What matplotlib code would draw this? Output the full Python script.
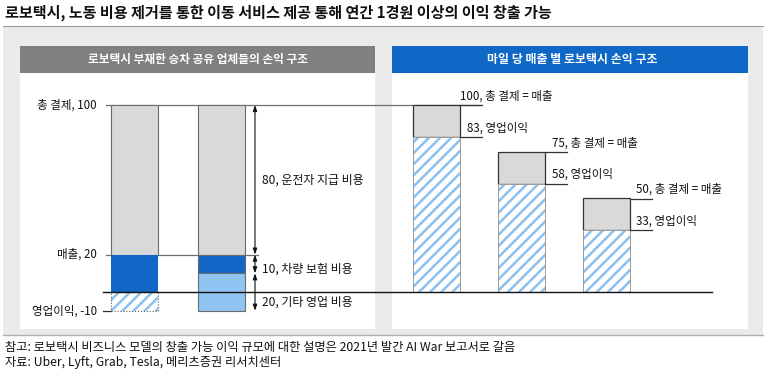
import matplotlib
matplotlib.use("Agg")
import matplotlib.pyplot as plt
from matplotlib.patches import Rectangle

plt.rcParams['font.family'] = ['Noto Sans CJK KR', 'DejaVu Sans']
plt.rcParams['hatch.linewidth'] = 1.8

# ---------------- data ----------------
title = "로보택시, 노동 비용 제거를 통한 이동 서비스 제공 통해 연간 1경원 이상의 이익 창출 가능"
left_header = "로보택시 부재한 승차 공유 업체들의 손익 구조"
right_header = "마일 당 매출 별 로보택시 손익 구조"
footer_note = "참고: 로보택시 비즈니스 모델의 창출 가능 이익 규모에 대한 설명은 2021년 발간 AI War 보고서로 갈음"
footer_src = "자료: Uber, Lyft, Grab, Tesla, 메리츠증권 리서치센터"

# left chart (ride-hailing platform without robotaxi)
total_payment = 100
revenue = 20
op_profit_left = -10
left_level_labels = ["총 결제, 100", "매출, 20", "영업이익, -10"]
left_levels = [total_payment, revenue, op_profit_left]
driver_cost = 80
insurance_cost = 10
other_cost = 20
cost_labels = ["80, 운전자 지급 비용", "10, 차량 보험 비용", "20, 기타 영업 비용"]

# right chart (robotaxi P&L by revenue per mile)
robo_revenue = [100, 75, 50]
robo_profit = [83, 58, 33]
robo_rev_labels = ["100, 총 결제 = 매출", "75, 총 결제 = 매출", "50, 총 결제 = 매출"]
robo_profit_labels = ["83, 영업이익", "58, 영업이익", "33, 영업이익"]

# ---------------- colors ----------------
BG = '#ebebeb'
GRAY_HDR = '#808080'
BLUE_HDR = '#0f67c6'
DARK_BLUE = '#1166c6'
LIGHT_BLUE = '#8fc3f2'
HATCH_BLUE = '#8cc0ee'
BAR_GRAY = '#d9d9d9'
EDGE = '#6a6a6a'

W, H = 768, 377
fig = plt.figure(figsize=(W / 100, H / 100), dpi=100)

# background axes in pixel coordinates
bg = fig.add_axes([0, 0, 1, 1])
bg.set_xlim(0, W)
bg.set_ylim(H, 0)
bg.axis('off')
bg.add_patch(Rectangle((3, 26), 760, 309, facecolor=BG, edgecolor='none'))
bg.plot([3, 763], [335, 335], color='#b0b0b0', lw=1)
bg.plot([3, 763], [25.5, 25.5], color='#9a9a9a', lw=0.8)
bg.add_patch(Rectangle((20, 46), 355, 283, facecolor='white', edgecolor='none'))
bg.add_patch(Rectangle((392, 46), 356, 283, facecolor='white', edgecolor='none'))
bg.add_patch(Rectangle((20, 46), 355, 27, facecolor=GRAY_HDR, edgecolor='none'))
bg.add_patch(Rectangle((392, 46), 356, 27, facecolor=BLUE_HDR, edgecolor='none'))
bg.text(5, 13, title, fontsize=10.9, fontweight='bold', va='center', ha='left', color='#111111')
bg.text(197.5, 59.5, left_header, fontsize=8.4, fontweight='bold', color='white', ha='center', va='center')
bg.text(572, 59.5, right_header, fontsize=8.6, fontweight='bold', color='white', ha='center', va='center')
bg.text(5, 348, footer_note, fontsize=8.8, va='center', ha='left', color='#111111')
bg.text(5, 362.5, footer_src, fontsize=8.8, va='center', ha='left', color='#111111')

# data axes: value v maps to pixel 292 - 1.87*v
ax = fig.add_axes([0, 0, 1, 1])
ax.set_xlim(0, W)
ax.set_ylim((292 - H) / 1.87, 292 / 1.87)
ax.patch.set_alpha(0)
ax.axis('off')

bw = 47
# ---- left chart ----
x1, x2 = 134.5, 221.0
# bar 1: total payment split into driver pay / revenue / operating loss
ax.bar(x1, total_payment - revenue, bw, bottom=revenue, color=BAR_GRAY, edgecolor=EDGE, lw=0.8, zorder=3)
ax.bar(x1, revenue, bw, bottom=0, color=DARK_BLUE, edgecolor='none', lw=0, zorder=3)
ax.bar(x1, op_profit_left, bw, bottom=0, color='white', edgecolor=HATCH_BLUE, hatch='///', lw=0, zorder=3)
ax.bar(x1, op_profit_left, bw, bottom=0, color='none', edgecolor='#555555', lw=0.8, ls=':', zorder=4)
# bar 2: cost structure
ax.bar(x2, driver_cost, bw, bottom=revenue, color=BAR_GRAY, edgecolor=EDGE, lw=0.8, zorder=3)
ax.bar(x2, insurance_cost, bw, bottom=revenue - insurance_cost, color=DARK_BLUE, edgecolor=EDGE, lw=0.8, zorder=3)
ax.bar(x2, other_cost, bw, bottom=op_profit_left, color=LIGHT_BLUE, edgecolor=EDGE, lw=0.8, zorder=3)

# level lines
ax.plot([106, 480], [total_payment] * 2, color='#707070', lw=0.9, zorder=2)
ax.plot([106, 258], [revenue] * 2, color='#707070', lw=0.9, zorder=2)
ax.plot([103, 712], [0, 0], color='#111111', lw=1.0, zorder=5)
ax.plot([103, x1 - bw / 2], [op_profit_left] * 2, color='#333333', lw=0.9, zorder=2)
for lab, lv in zip(left_level_labels, left_levels):
    ax.text(97, lv, lab, fontsize=8.3, ha='right', va='center', color='#111111')

# cost arrows
ax_x = 255
bounds = [total_payment, revenue, revenue - insurance_cost, op_profit_left]
for top, bot in zip(bounds[:-1], bounds[1:]):
    ax.annotate('', xy=(ax_x, bot), xytext=(ax_x, top),
                arrowprops=dict(arrowstyle='<|-|>,head_length=0.35,head_width=0.12',
                                color='#111111', lw=0.8, shrinkA=0, shrinkB=0), zorder=6)
label_y = [(total_payment + revenue) / 2, revenue - insurance_cost / 2 - 3, op_profit_left / 2 - 0.5]
for lab, yy in zip(cost_labels, label_y):
    ax.text(262, yy, lab, fontsize=8.6, ha='left', va='center', color='#111111')

# ---- right chart ----
rx = [436.5, 521.0, 606.0]
for x, rev, prof, l1, l2 in zip(rx, robo_revenue, robo_profit, robo_rev_labels, robo_profit_labels):
    ax.bar(x, rev - prof, bw, bottom=prof, color=BAR_GRAY, edgecolor='#333333', lw=0.9, zorder=3)
    ax.bar(x, prof, bw, bottom=0, color='white', edgecolor=HATCH_BLUE, hatch='///', lw=0, zorder=3)
    ax.bar(x, prof, bw, bottom=0, color='none', edgecolor='#9a9a9a', lw=0.7, zorder=4)
    xr = x + bw / 2
    ax.plot([xr, xr + 22], [rev] * 2, color='#333333', lw=0.9, zorder=4)
    ax.plot([xr, xr + 22], [prof] * 2, color='#333333', lw=0.9, zorder=4)
    ax.text(xr + (0 if rev == 100 else 7), rev + 1.3, l1, fontsize=8.3, ha='left', va='bottom', color='#111111')
    ax.text(xr + 7, prof + 1.3, l2, fontsize=8.3, ha='left', va='bottom', color='#111111')

fig.savefig('out.png', dpi=100)
